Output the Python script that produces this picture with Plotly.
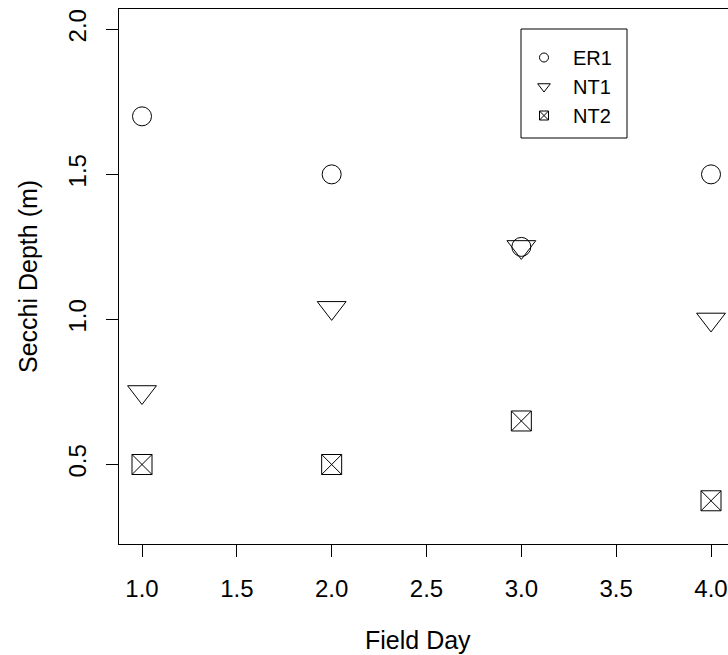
import plotly.graph_objects as go

# Secchi depth readings per site over four field days
field_days = [1, 2, 3, 4]
er1_depth = [1.7, 1.5, 1.25, 1.5]
nt1_depth = [0.75, 1.04, 1.25, 1.0]
nt2_depth = [0.5, 0.5, 0.65, 0.375]

x_ticks = [1.0, 1.5, 2.0, 2.5, 3.0, 3.5, 4.0]
y_ticks = [0.5, 1.0, 1.5, 2.0]

FONT = "Arial, Liberation Sans, sans-serif"

series = [
    ("ER1", er1_depth, "circle-open", 19, 9),
    ("NT1", nt1_depth, "triangle-down-open", 25, 11),
    ("NT2", nt2_depth, "square-x-open", 20, 9),
]

fig = go.Figure()
for name, vals, sym, size, leg_size in series:
    fig.add_trace(go.Scatter(
        x=field_days, y=vals, mode="markers", name=name, showlegend=False,
        marker=dict(symbol=sym, size=size, color="black", line=dict(width=1, color="black")),
        cliponaxis=False,
    ))
    # smaller symbols for the key
    fig.add_trace(go.Scatter(
        x=[None], y=[None], mode="markers", name=name,
        marker=dict(symbol=sym, size=leg_size, color="black", line=dict(width=1, color="black")),
    ))

W, H = 728, 655
ML, MR, MT, MB = 119, 0, 9, 111
pw, ph = W - ML - MR, H - MT - MB


def px_x(p):
    return (p - ML) / pw


def px_y(p):
    return (H - MB - p) / ph


fig.update_layout(
    width=W, height=H,
    margin=dict(l=ML, r=MR, t=MT, b=MB, pad=0),
    paper_bgcolor="white", plot_bgcolor="white",
    font=dict(family=FONT, color="black"),
    xaxis=dict(
        range=[0.8787, 4.0896], tickvals=x_ticks, ticktext=[f"{v:.1f}" for v in x_ticks],
        showgrid=False, zeroline=False, showline=True, linecolor="black", linewidth=1,
        mirror=True, ticks="outside", ticklen=12, tickcolor="black", tickwidth=1,
        tickfont=dict(size=24, family=FONT, color="black"), ticklabelstandoff=11,
    ),
    yaxis=dict(
        range=[0.226, 2.07], tickvals=y_ticks, ticktext=[f"{v:.1f}" for v in y_ticks],
        showgrid=False, zeroline=False, showline=True, linecolor="black", linewidth=1,
        mirror=False, ticks="outside", ticklen=12, tickcolor="black", tickwidth=1,
        tickangle=-90, tickfont=dict(size=24, family=FONT, color="black"), ticklabelstandoff=10,
    ),
    legend=dict(
        x=px_x(515), y=px_y(38), xanchor="left", yanchor="top",
        bgcolor="rgba(0,0,0,0)", borderwidth=0, itemwidth=48,
        font=dict(size=20, family=FONT, color="black"), tracegroupgap=0,
    ),
    shapes=[dict(
        type="rect", xref="paper", yref="paper",
        x0=px_x(521), x1=px_x(627), y0=px_y(138), y1=px_y(29),
        line=dict(color="black", width=1), fillcolor="rgba(0,0,0,0)",
    )],
    annotations=[
        dict(text="Field Day", xref="paper", yref="paper", x=px_x(418), y=px_y(640),
             xanchor="center", yanchor="middle", showarrow=False,
             font=dict(size=25, family=FONT, color="black")),
        dict(text="Secchi Depth (m)", xref="paper", yref="paper", x=px_x(28), y=px_y(276),
             xanchor="center", yanchor="middle", showarrow=False, textangle=-90,
             font=dict(size=25, family=FONT, color="black")),
    ],
)

fig.write_html("out.html")
